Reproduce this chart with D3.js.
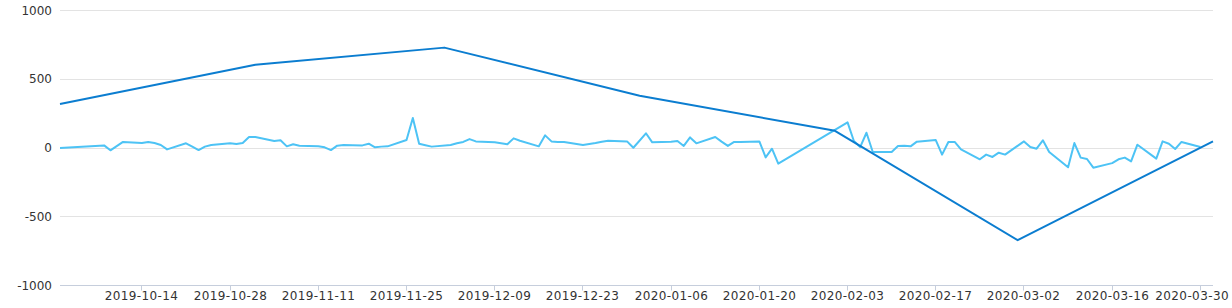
<!DOCTYPE html>
<html>
<head>
  <meta charset="utf-8">
  <script src="https://d3js.org/d3.v7.min.js"></script>
  <style>
    body { margin: 0; background: #fff; }
    .tick-label { font-family: "DejaVu Sans", sans-serif; font-size: 12px; fill: #333; }
    .x-label { letter-spacing: 0.4px; }
  </style>
</head>
<body>
  <script>
    // Daily series (light line)
    const dailyDates = [
      "2019-10-01", "2019-10-08", "2019-10-09", "2019-10-10", "2019-10-11",
      "2019-10-14", "2019-10-15", "2019-10-16", "2019-10-17", "2019-10-18",
      "2019-10-21", "2019-10-22", "2019-10-23", "2019-10-24", "2019-10-25",
      "2019-10-28", "2019-10-29", "2019-10-30", "2019-10-31", "2019-11-01",
      "2019-11-04", "2019-11-05", "2019-11-06", "2019-11-07", "2019-11-08",
      "2019-11-11", "2019-11-12", "2019-11-13", "2019-11-14", "2019-11-15",
      "2019-11-18", "2019-11-19", "2019-11-20", "2019-11-21", "2019-11-22",
      "2019-11-25", "2019-11-26", "2019-11-27", "2019-11-28", "2019-11-29",
      "2019-12-02", "2019-12-03", "2019-12-04", "2019-12-05", "2019-12-06",
      "2019-12-09", "2019-12-10", "2019-12-11", "2019-12-12", "2019-12-13",
      "2019-12-16", "2019-12-17", "2019-12-18", "2019-12-19", "2019-12-20",
      "2019-12-23", "2019-12-24", "2019-12-25", "2019-12-26", "2019-12-27",
      "2019-12-30", "2019-12-31", "2020-01-02", "2020-01-03",
      "2020-01-06", "2020-01-07", "2020-01-08", "2020-01-09", "2020-01-10",
      "2020-01-13", "2020-01-14", "2020-01-15", "2020-01-16", "2020-01-17",
      "2020-01-20", "2020-01-21", "2020-01-22", "2020-01-23",
      "2020-02-03", "2020-02-04", "2020-02-05", "2020-02-06", "2020-02-07",
      "2020-02-10", "2020-02-11", "2020-02-12", "2020-02-13", "2020-02-14",
      "2020-02-17", "2020-02-18", "2020-02-19", "2020-02-20", "2020-02-21",
      "2020-02-24", "2020-02-25", "2020-02-26", "2020-02-27", "2020-02-28",
      "2020-03-02", "2020-03-03", "2020-03-04", "2020-03-05", "2020-03-06",
      "2020-03-09", "2020-03-10", "2020-03-11", "2020-03-12", "2020-03-13",
      "2020-03-16", "2020-03-17", "2020-03-18", "2020-03-19", "2020-03-20",
      "2020-03-23", "2020-03-24", "2020-03-25", "2020-03-26", "2020-03-27",
      "2020-03-30"
    ];
    const dailyValues = [
      0, 19, -17, 14, 44,
      36, 44, 36, 22, -10,
      34, 10, -15, 10, 22,
      34, 29, 36, 80, 80,
      51, 56, 12, 27, 17,
      12, 5, -15, 17, 22,
      19, 31, 5, 10, 12,
      58, 218, 31, 20, 10,
      22, 34, 44, 65, 48,
      41, 34, 27, 70, 53,
      12, 92, 48, 44, 44,
      22, 29, 36, 46, 53,
      48, 2, 107, 41,
      46, 51, 15, 77, 34,
      80, 46, 15, 44, 44,
      48, -68, -5, -114,
      186, 51, 7, 111, -29,
      -29, 15, 17, 12, 46,
      58, -48, 44, 44, -10,
      -82, -48, -65, -34, -48,
      48, 7, -5, 56, -29,
      -140, 36, -70, -80, -143,
      -110, -82, -70, -97, 24,
      -77, 48, 31, -7, 44,
      7
    ];

    // Monthly series (dark line)
    const monthlyDates = [
      "2019-10-01", "2019-11-01", "2019-12-01", "2020-01-01",
      "2020-02-01", "2020-03-01", "2020-04-01"
    ];
    const monthlyValues = [320, 605, 730, 380, 125, -670, 48];

    // Axis ticks
    const xTickLabels = [
      "2019-10-14", "2019-10-28", "2019-11-11", "2019-11-25", "2019-12-09",
      "2019-12-23", "2020-01-06", "2020-01-20", "2020-02-03", "2020-02-17",
      "2020-03-02", "2020-03-16", "2020-03-30"
    ];
    const yTicks = [-1000, -500, 0, 500, 1000];

    const width = 1232;
    const height = 308;
    const margin = { top: 10.5, right: 19, bottom: 22.5, left: 60 };

    const parse = d3.utcParse("%Y-%m-%d");

    const svg = d3.select("body")
      .append("svg")
      .attr("width", width)
      .attr("height", height);

    const x = d3.scaleUtc()
      .domain([parse("2019-10-01"), parse("2020-04-01")])
      .range([margin.left, width - margin.right]);

    const y = d3.scaleLinear()
      .domain([-1000, 1000])
      .range([height - margin.bottom, margin.top]);

    const crisp = v => Math.round(v - 0.5) + 0.5;

    // Horizontal grid lines and y labels
    svg.append("g")
      .selectAll("line")
      .data(yTicks)
      .join("line")
      .attr("x1", margin.left)
      .attr("x2", width - margin.right)
      .attr("y1", d => crisp(y(d)))
      .attr("y2", d => crisp(y(d)))
      .attr("stroke", "#e3e3e3");

    svg.append("g")
      .selectAll("text")
      .data(yTicks)
      .join("text")
      .attr("class", "tick-label")
      .attr("x", margin.left - 8)
      .attr("y", d => y(d))
      .attr("dy", "0.35em")
      .attr("text-anchor", "end")
      .text(d => String(d));

    // Bottom axis line, ticks and labels
    const axisY = crisp(y(-1000));
    svg.append("line")
      .attr("x1", margin.left)
      .attr("x2", width - margin.right)
      .attr("y1", axisY)
      .attr("y2", axisY)
      .attr("stroke", "#c6cedc");

    const xt = svg.append("g")
      .selectAll("g")
      .data(xTickLabels)
      .join("g")
      .attr("transform", d => `translate(${crisp(x(parse(d)))},0)`);

    xt.append("line")
      .attr("y1", axisY)
      .attr("y2", axisY + 5)
      .attr("stroke", "#c6cedc");

    xt.append("text")
      .attr("class", "tick-label x-label")
      .attr("y", axisY + 14)
      .attr("text-anchor", "middle")
      .text(d => d)
      .each(function (d) {
        // keep the last label inside the frame
        const tx = crisp(x(parse(d)));
        const half = this.getComputedTextLength() / 2;
        if (tx + half > width - 3) {
          d3.select(this).attr("x", width - 3 - half - tx);
        }
      });

    // Lines
    const line = d3.line()
      .x(d => x(d[0]))
      .y(d => y(d[1]));

    const daily = dailyDates.map((d, i) => [parse(d), dailyValues[i]]);
    const monthly = monthlyDates.map((d, i) => [parse(d), monthlyValues[i]]);

    svg.append("path")
      .datum(daily)
      .attr("fill", "none")
      .attr("stroke", "#4dc3f5")
      .attr("stroke-width", 2)
      .attr("stroke-linejoin", "round")
      .attr("d", line);

    svg.append("path")
      .datum(monthly)
      .attr("fill", "none")
      .attr("stroke", "#0b7dd0")
      .attr("stroke-width", 2)
      .attr("stroke-linejoin", "round")
      .attr("d", line);
  </script>
</body>
</html>
